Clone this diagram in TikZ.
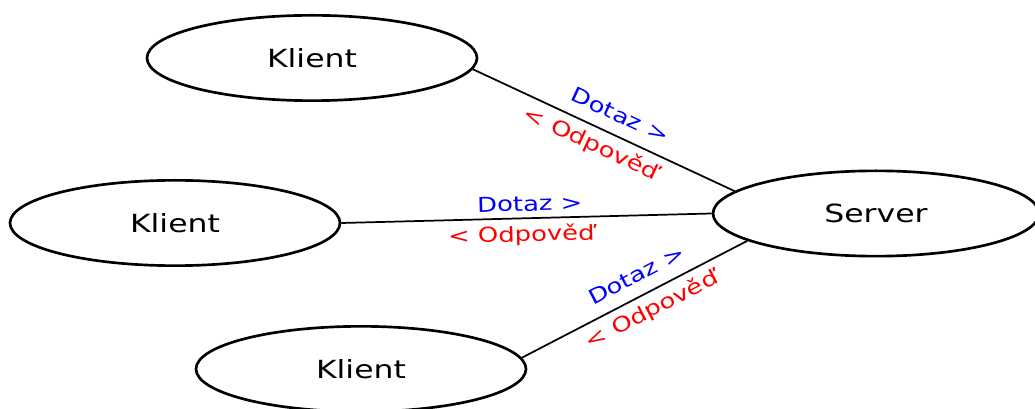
\documentclass[tikz,border=0pt]{standalone}
\usepackage{fontspec}
\setmainfont{DejaVu Sans}[FakeStretch=1.26]
\usetikzlibrary{shapes.geometric}
\begin{document}
\begin{tikzpicture}[x=0.75pt,y=-0.75pt,
  ent/.style={ellipse, draw, line width=2pt, minimum width=247.5pt, minimum height=64pt, inner sep=0pt, font=\fontsize{18.75}{22}\selectfont},
  conn/.style={line width=1.3pt},
  req/.style={text=blue, font=\fontsize{15.4}{18}\selectfont, sloped, inner sep=1pt},
  resp/.style={text=red, font=\fontsize{15.4}{18}\selectfont, sloped, inner sep=1pt}]
\useasboundingbox (0,0) rectangle (1035,409);
\clip (0,0) rectangle (1035,409);
\node[ent] (k1) at (312,58) {Klient};
\node[ent] (k2) at (175,223) {Klient};
\node[ent] (k3) at (361,369) {Klient};
\node[ent, minimum width=244.5pt] (s) at (876,213.5) {Server};
\draw[conn] (k1.-4.7) -- (s.171.7)
  node[req, pos=0.53, above=8pt] {Dotaz >}
  node[resp, pos=0.48, below=4pt] {< Odpověď};
\draw[conn] (k2.0) -- (s.180)
  node[req, pos=0.51, above=3.5pt] {Dotaz >}
  node[resp, pos=0.485, below=3.5pt] {< Odpověď};
\draw[conn] (k3.4.7) -- (s.192.9)
  node[req, pos=0.55, above=8pt] {Dotaz >}
  node[resp, pos=0.54, below=4pt] {< Odpověď};
\end{tikzpicture}
\end{document}
